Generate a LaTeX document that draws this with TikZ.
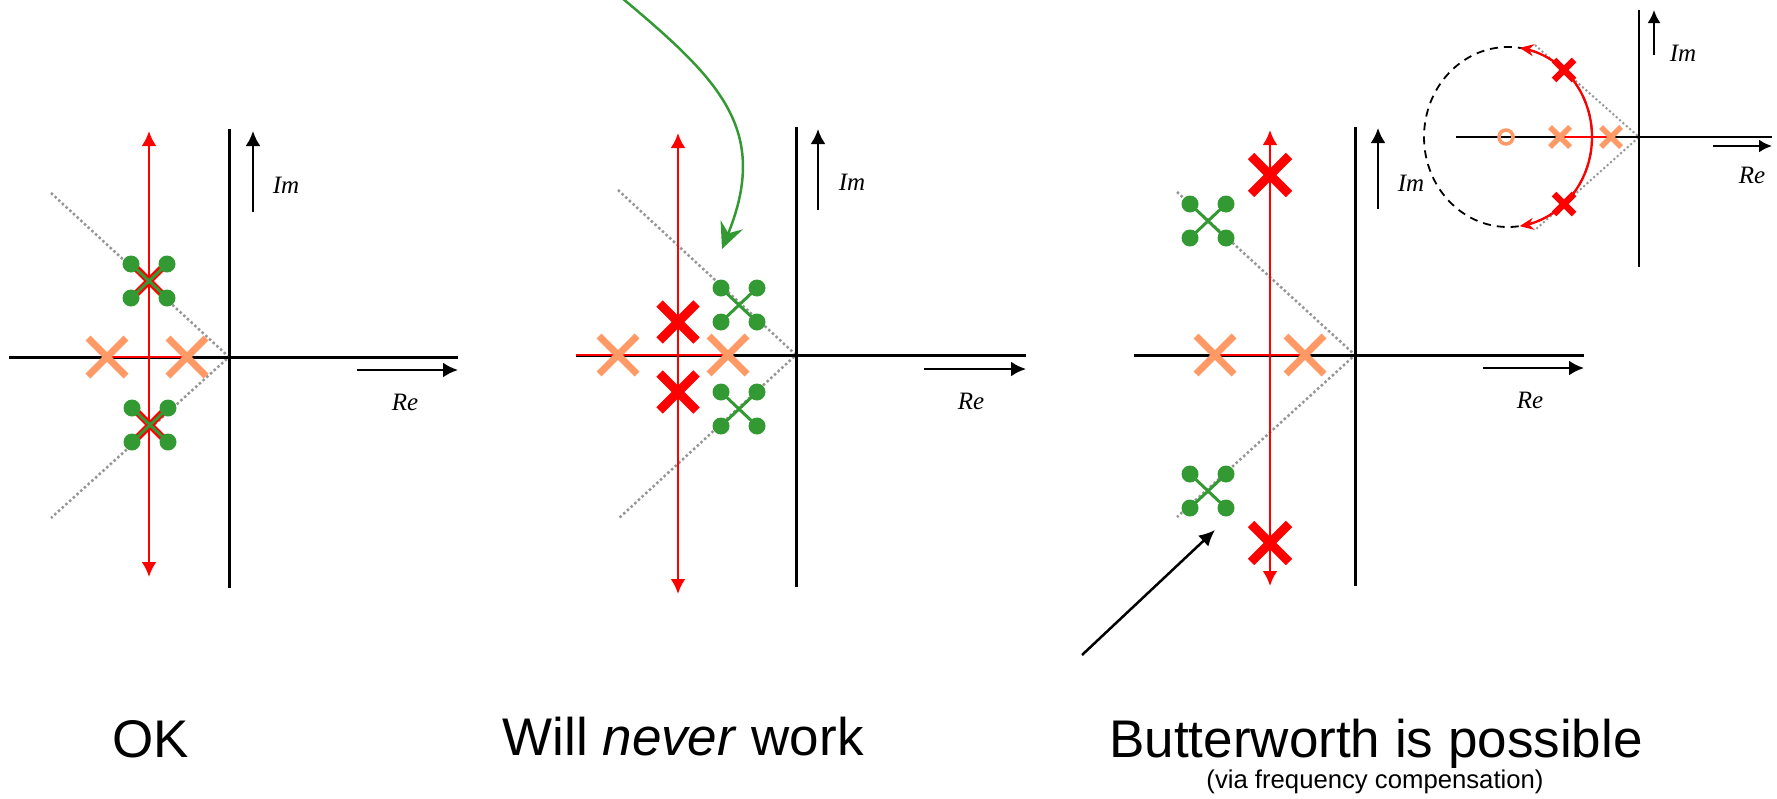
\documentclass[tikz,border=0pt]{standalone}
\usepackage{fontspec}
\setmainfont{Liberation Sans}
\newfontfamily\serifit{Liberation Serif}
\usetikzlibrary{arrows.meta}
\definecolor{myred}{RGB}{255,0,0}
\definecolor{myorange}{RGB}{255,153,102}
\definecolor{mygreen}{RGB}{51,153,51}
\definecolor{mygray}{RGB}{150,150,150}
\newcommand\Xm[5]{\draw[line width=#4,#5] (#1-#3,#2-#3) -- (#1+#3,#2+#3) (#1-#3,#2+#3) -- (#1+#3,#2-#3);}
\newcommand\Gx[2]{\draw[mygreen,line width=3pt] (#1-18,#2-17) -- (#1+18,#2+17) (#1-18,#2+17) -- (#1+18,#2-17);
  \foreach \dx/\dy in {-18/-17,18/-17,-18/17,18/17} {\fill[mygreen] (#1+\dx,#2+\dy) circle[radius=8.5pt];}}
\begin{document}
\begin{tikzpicture}[x=1pt,y=-1pt,
  axis/.style={line width=3pt,black},
  axarrow/.style={line width=2.5pt,-{Latex[length=15pt,width=15pt]}},
  locus/.style={line width=2.7pt,myred},
  locusarrow/.style={locus,{Latex[length=15pt,width=15pt]}-{Latex[length=15pt,width=15pt]}},
  asym/.style={mygray,line width=2.5pt,dash pattern=on 2.5pt off 2.5pt},
  lbl/.style={font=\serifit\itshape\fontsize{25}{25}\selectfont,inner sep=0pt},
  capt/.style={font=\fontsize{53}{60}\selectfont,anchor=base,inner sep=0pt},
]
\useasboundingbox (0,0) rectangle (1777,798);

% ---------- Panel 1 ----------
\coordinate (o1) at (229,357);
\draw[asym] (51,193) -- (o1) -- (51,518);
\draw[axis] (9,357) -- (458,357);
\draw[axis] (229,129) -- (229,588);
\coordinate (re1a) at (357,370); \coordinate (re1b) at (458,370);
\draw[axarrow] (re1a) -- (re1b);
\node[lbl] (re1) at (405,402) {Re};
\coordinate (im1a) at (253,212); \coordinate (im1b) at (253,131);
\draw[axarrow] (im1a) -- (im1b);
\node[lbl] (im1) at (286,185) {Im};
\draw[locus] (107,357) -- (187,357);
\draw[locusarrow] (149,131) -- (149,577);
\Xm{107}{357}{19}{7pt}{myorange}
\Xm{187}{357}{19}{7pt}{myorange}
\Xm{149}{281}{15}{7pt}{myred}
\Xm{150}{425}{15}{7pt}{myred}
\Gx{149}{281}
\Gx{150}{425}

% ---------- Panel 2 ----------
\coordinate (o2) at (796,355);
\draw[asym] (618,190) -- (o2) -- (618,519);
\draw[axis] (576,355) -- (1026,355);
\draw[axis] (796,127) -- (796,587);
\coordinate (re2a) at (924,369); \coordinate (re2b) at (1026,369);
\draw[axarrow] (re2a) -- (re2b);
\node[lbl] (re2) at (971,401) {Re};
\coordinate (im2a) at (818,210); \coordinate (im2b) at (818,129);
\draw[axarrow] (im2a) -- (im2b);
\node[lbl] (im2) at (852,182) {Im};
\draw[locus] (576,355) -- (728,355);
\draw[locusarrow] (678,133) -- (678,594);
\Xm{618}{355}{19}{7pt}{myorange}
\Xm{728}{355}{19}{7pt}{myorange}
\Xm{678}{322}{18.5}{9pt}{myred}
\Xm{678}{392}{18.5}{9pt}{myred}
\Gx{739}{305}
\Gx{739}{409}
\coordinate (g0) at (622,-2); \coordinate (g1) at (722,249);
\draw[mygreen,line width=2.5pt,-{Stealth[length=26pt,width=24pt,inset=9pt]}]
  (g0) .. controls (720,80) and (770,130) .. (g1);

% ---------- Panel 3 ----------
\coordinate (o3) at (1355,355);
\draw[asym] (1177,192) -- (o3) -- (1177,517);
\draw[axis] (1134,355) -- (1584,355);
\draw[axis] (1355,127) -- (1355,586);
\coordinate (re3a) at (1483,368); \coordinate (re3b) at (1584,368);
\draw[axarrow] (re3a) -- (re3b);
\node[lbl] (re3) at (1530,400) {Re};
\coordinate (im3a) at (1378,209); \coordinate (im3b) at (1378,128);
\draw[axarrow] (im3a) -- (im3b);
\node[lbl] (im3) at (1411,183) {Im};
\draw[locus] (1215,355) -- (1305,355);
\draw[locusarrow] (1270,130) -- (1270,586);
\Xm{1215}{355}{19}{7pt}{myorange}
\Xm{1305}{355}{19}{7pt}{myorange}
\Xm{1270}{175}{19}{9pt}{myred}
\Xm{1270}{543}{19}{9pt}{myred}
\Gx{1208}{221}
\Gx{1208}{491}
\coordinate (b0) at (1082,655); \coordinate (b1) at (1215,530);
\draw[line width=2.5pt,-{Latex[length=16pt,width=15pt]}] (b0) -- (b1);

% ---------- Inset ----------
\coordinate (o4) at (1639,137);
\draw[mygray,line width=2pt,dash pattern=on 2pt off 2.5pt] (1535,45) -- (o4) -- (1535,230);
\draw[line width=2.5pt] (1456,137) -- (1772,137);
\draw[line width=2.5pt] (1639,10) -- (1639,267);
\coordinate (re4a) at (1713,146); \coordinate (re4b) at (1772,146);
\draw[line width=2.2pt,-{Latex[length=13pt,width=13pt]}] (re4a) -- (re4b);
\node[lbl] (re4) at (1752,175) {Re};
\coordinate (im4a) at (1654,55); \coordinate (im4b) at (1654,10);
\draw[line width=2.2pt,-{Latex[length=13pt,width=13pt]}] (im4a) -- (im4b);
\node[lbl] (im4) at (1683,53) {Im};
\draw[line width=1.8pt,dash pattern=on 8pt off 6pt] (1508,137) ellipse[x radius=84,y radius=90];
\draw[myred,line width=2.5pt] (1560,137) -- (1611,137);
\draw[myred,line width=2.3pt,-{Stealth[length=14pt,width=12pt]}]
  plot[domain=0:82,samples=40,smooth] ({1508+84*cos(\x)},{137-90*sin(\x)});
\draw[myred,line width=2.3pt,-{Stealth[length=14pt,width=12pt]}]
  plot[domain=0:82,samples=40,smooth] ({1508+84*cos(\x)},{137+90*sin(\x)});
\draw[myorange,line width=3.5pt] (1506,137) circle[radius=7pt];
\Xm{1560}{137}{10}{5.5pt}{myorange}
\Xm{1611}{137}{10}{5.5pt}{myorange}
\Xm{1564}{70}{10}{6.5pt}{myred}
\Xm{1564}{204}{10}{6.5pt}{myred}

% ---------- Captions ----------
\node[capt] (c1) at (151,757) {OK};
\node[capt] (c2) at (683,755) {Will \textit{never} work};
\node[capt] (c3) at (1376,757) {Butterworth is possible};
\node[font=\fontsize{25.7}{27}\selectfont,anchor=base,inner sep=0pt] (c4) at (1375,788) {(via frequency compensation)};
\end{tikzpicture}
\end{document}
